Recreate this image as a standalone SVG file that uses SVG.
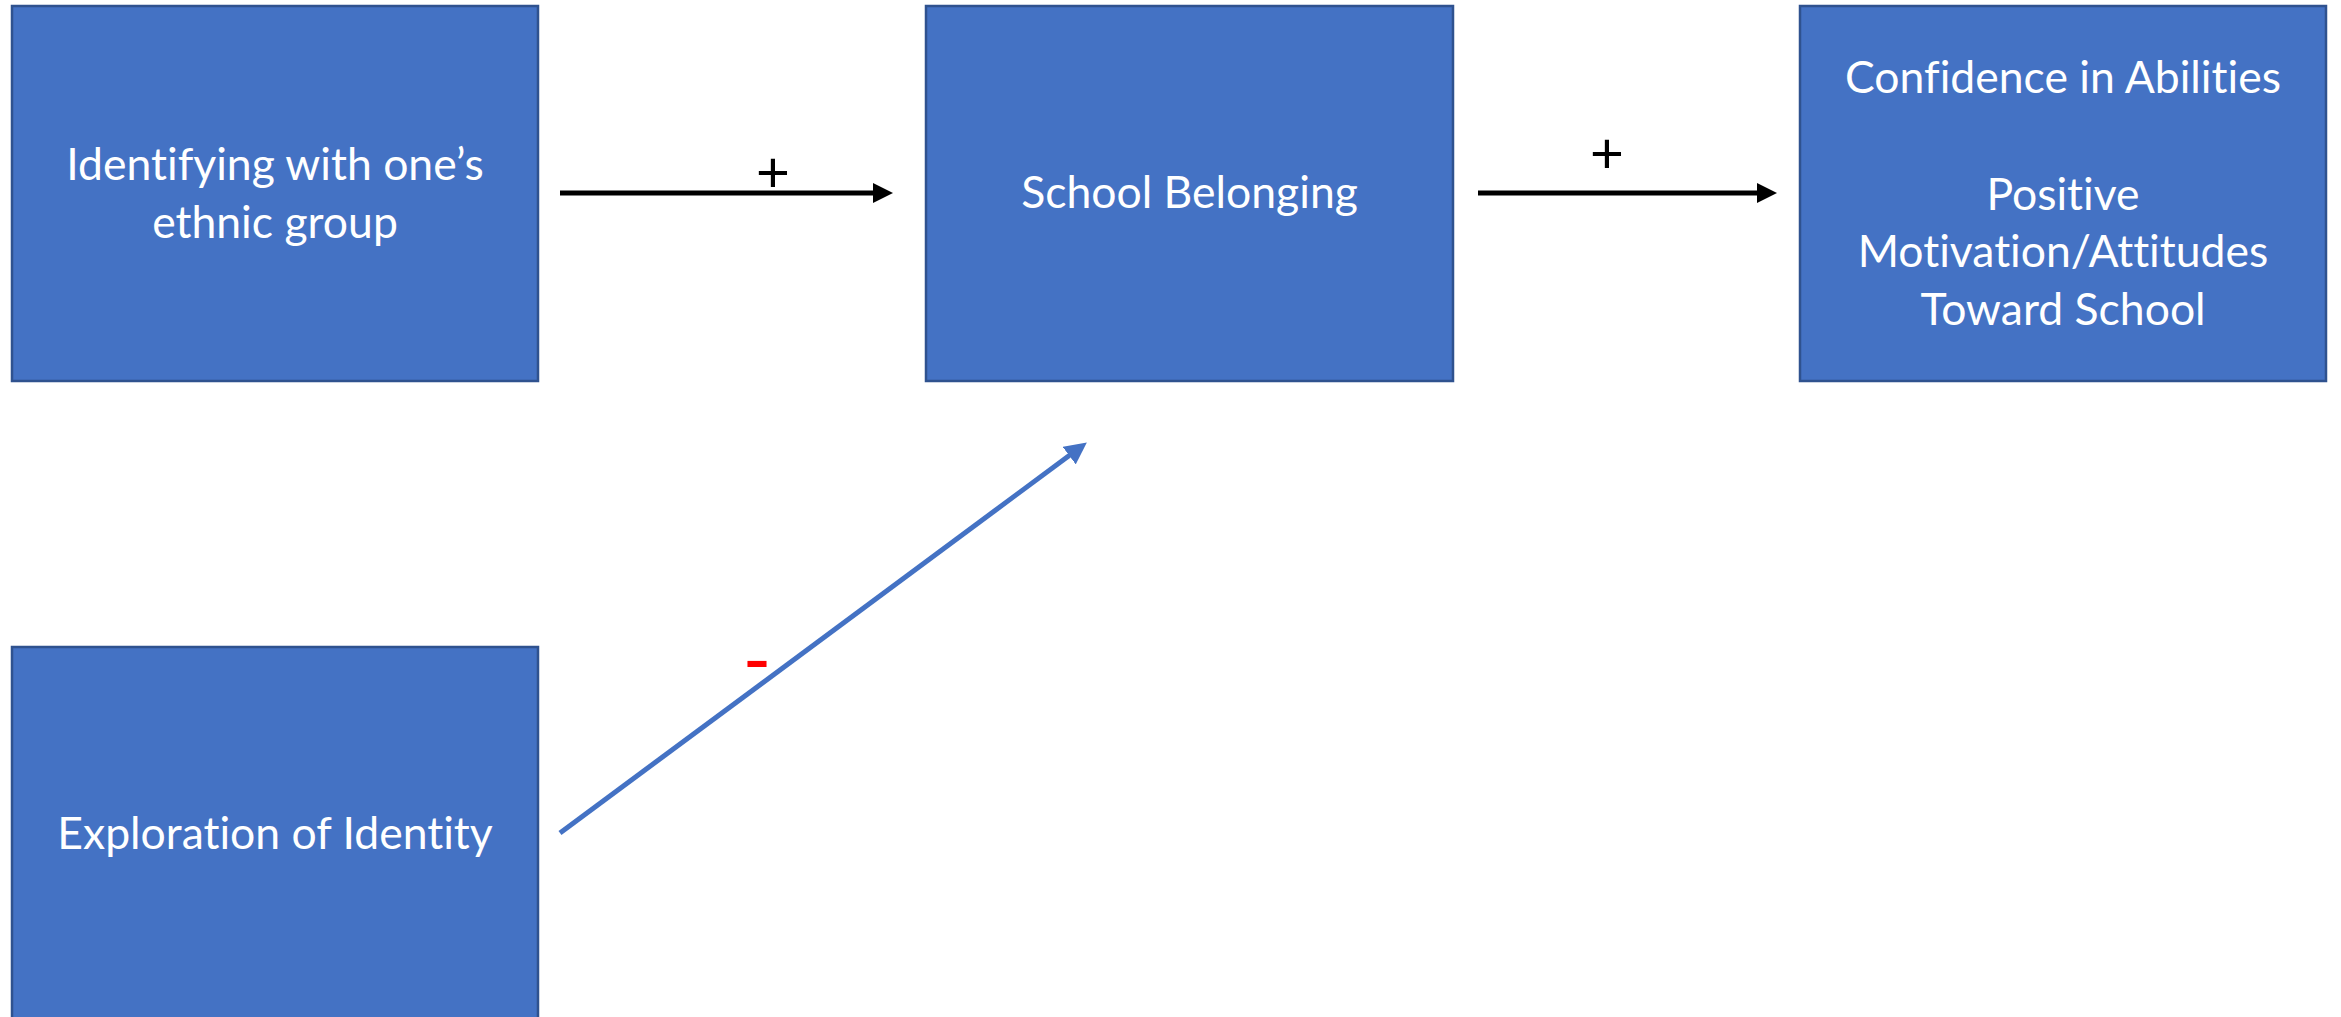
<svg xmlns="http://www.w3.org/2000/svg" width="2341" height="1017" viewBox="0 0 2341 1017">
<style>
.box{fill:#4472C4;stroke:#2F528F;stroke-width:2.5}
.lbl{font-family:Lato,"Liberation Sans",sans-serif;font-size:44.5px;fill:#FFFFFF;text-anchor:middle;font-variant-ligatures:none;font-feature-settings:"liga" 0}
.sign{font-family:"Liberation Sans",sans-serif;font-size:58px;fill:#000000;text-anchor:middle}
.neg{font-family:"Liberation Sans",sans-serif;font-size:78px;fill:#FF0000;text-anchor:middle}
</style>
<defs>
<marker id="ahBlack" markerUnits="userSpaceOnUse" markerWidth="20" markerHeight="20" refX="5" refY="10" orient="auto">
<path d="M0,0 L20,10 L0,20 Z" fill="#000000"/>
</marker>
<marker id="ahBlue" markerUnits="userSpaceOnUse" markerWidth="22" markerHeight="22" refX="6" refY="11" orient="auto">
<path d="M0,0 L22,11 L0,22 Z" fill="#4472C4"/>
</marker>
</defs>
<rect width="2341" height="1017" fill="#FFFFFF"/>
<g id="node-identifying">
<rect class="box" x="12" y="6" width="526" height="375"/>
<text class="lbl" x="275" y="180">Identifying with one’s</text>
<text class="lbl" x="275" y="238">ethnic group</text>
</g>
<g id="node-school-belonging">
<rect class="box" x="926" y="6" width="527" height="375"/>
<text class="lbl" x="1189.5" y="208">School Belonging</text>
</g>
<g id="node-confidence">
<rect class="box" x="1800" y="6" width="526" height="375"/>
<text class="lbl" x="2063" y="93">Confidence in Abilities</text>
<text class="lbl" x="2063" y="210">Positive</text>
<text class="lbl" x="2063" y="267">Motivation/Attitudes</text>
<text class="lbl" x="2063" y="325">Toward School</text>
</g>
<g id="node-exploration">
<rect class="box" x="12" y="647" width="526" height="380"/>
<text class="lbl" x="275" y="849">Exploration of Identity</text>
</g>
<g id="connectors">
<line x1="560" y1="193" x2="878" y2="193" stroke="#000000" stroke-width="5" marker-end="url(#ahBlack)"/>
<text class="sign" x="773" y="192">+</text>
<line x1="1478" y1="193" x2="1762" y2="193" stroke="#000000" stroke-width="5" marker-end="url(#ahBlack)"/>
<text class="sign" x="1607" y="173">+</text>
<line x1="560" y1="833" x2="1074" y2="452" stroke="#4472C4" stroke-width="5" marker-end="url(#ahBlue)"/>
<text class="neg" x="757" y="685">-</text>
</g>
</svg>
